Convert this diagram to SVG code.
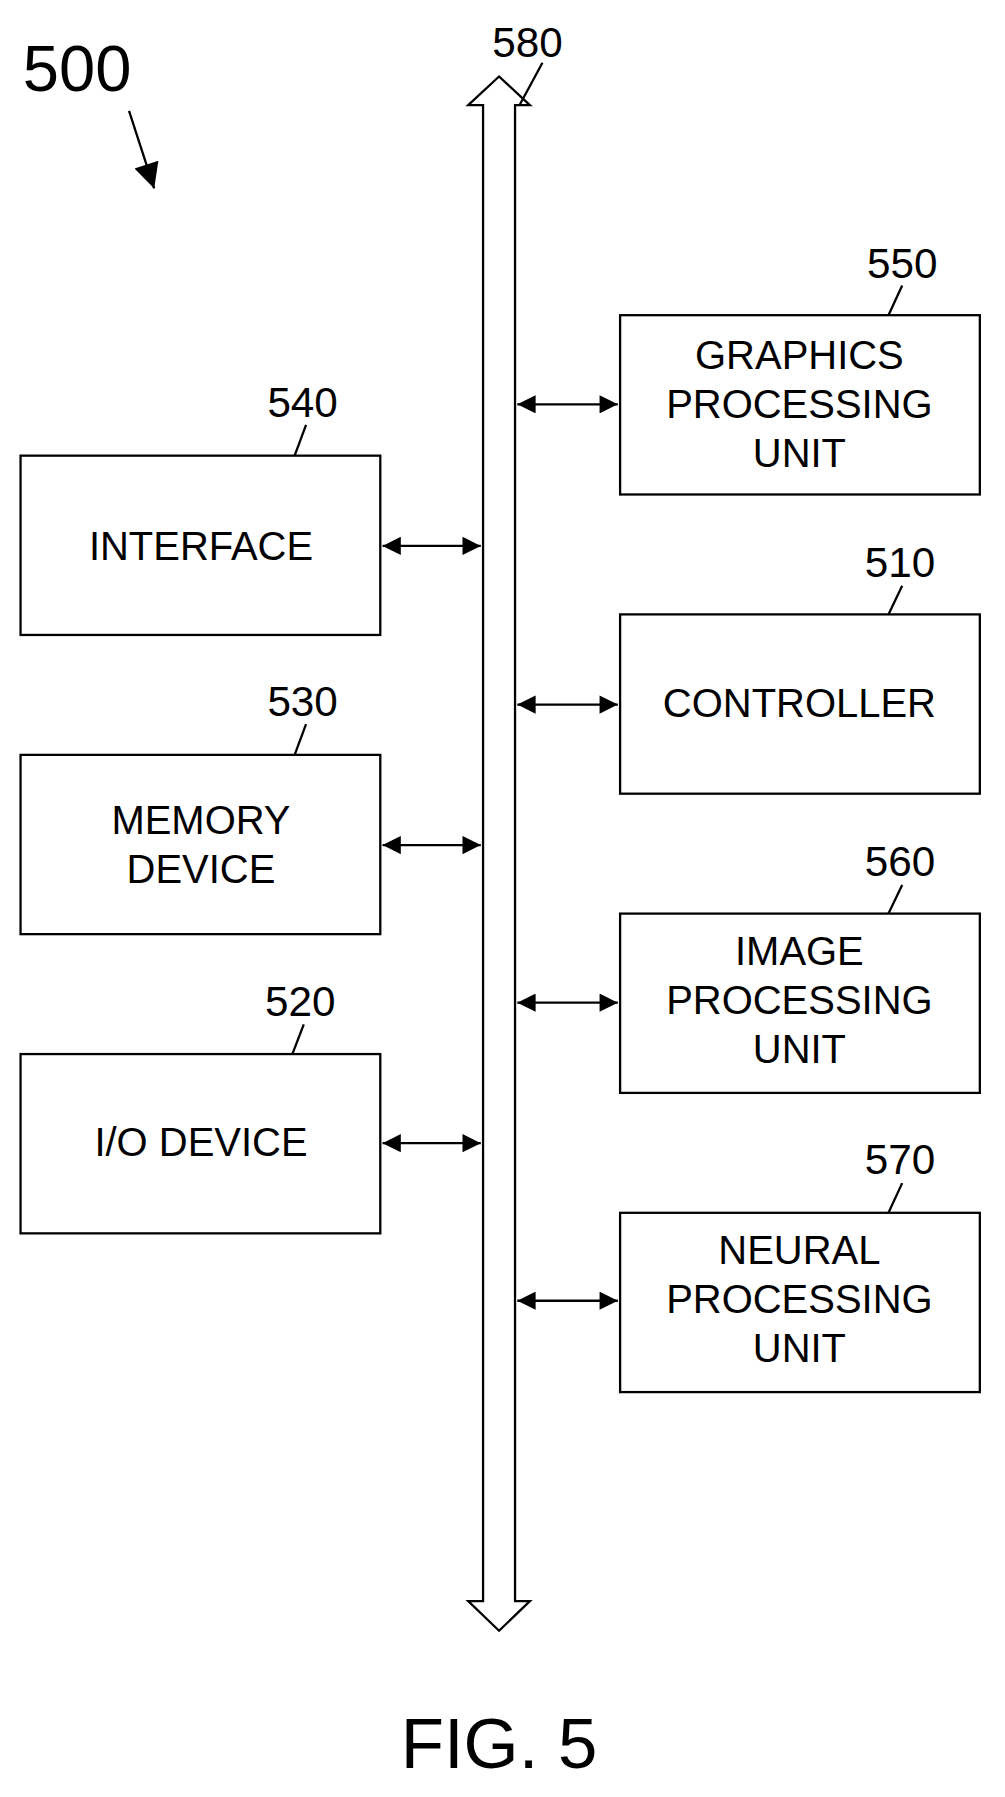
<svg xmlns="http://www.w3.org/2000/svg" width="1005" height="1797" viewBox="0 0 1005 1797">
<style>
text{font-family:"Liberation Sans",Arial,sans-serif;fill:#000}
.box{fill:#fff;stroke:#000;stroke-width:2}
.t{font-size:35px;text-anchor:middle}
.n{font-size:37px;text-anchor:middle}
.ld{stroke:#000;stroke-width:2;fill:none}
.c{stroke:#000;stroke-width:2;marker-start:url(#a);marker-end:url(#a)}
</style>
<defs>
<marker id="a" viewBox="0 0 10 10" refX="10" refY="5" markerWidth="20" markerHeight="16" markerUnits="userSpaceOnUse" orient="auto-start-reverse"><path d="M0,0L10,5L0,10z" fill="#000"/></marker>
<marker id="b" viewBox="0 0 10 10" refX="10" refY="5" markerWidth="32" markerHeight="22" markerUnits="userSpaceOnUse" orient="auto"><path d="M0,0L10,5L0,10z" fill="#000"/></marker>
</defs>
<rect width="1005" height="1797" fill="#fff"/>
<g transform="scale(1.142)">
<g id="label500"><text x="20" y="80" style="font-size:57px">500</text><line class="ld" x1="113" y1="97" x2="135" y2="165" marker-end="url(#b)"/></g>
<g id="bus580"><path d="M423,92 L410,92 L437,67 L464,92 L451,92 L451,1402 L464,1402 L437,1428 L410,1402 L423,1402 Z" fill="#fff" stroke="#000" stroke-width="2"/>
<text class="n" x="462" y="50">580</text><line class="ld" x1="475" y1="55" x2="455" y2="92"/></g>
<g id="n550"><rect class="box" x="543" y="276" width="315" height="157"/><text class="t" x="700" y="323">GRAPHICS</text><text class="t" x="700" y="366">PROCESSING</text><text class="t" x="700" y="409">UNIT</text><text class="n" x="790" y="243">550</text><line class="ld" x1="790" y1="250" x2="778" y2="276"/></g>
<g id="n510"><rect class="box" x="543" y="538" width="315" height="157"/><text class="t" x="700" y="628">CONTROLLER</text><text class="n" x="788" y="505">510</text><line class="ld" x1="790" y1="513" x2="778" y2="538"/></g>
<g id="n560"><rect class="box" x="543" y="800" width="315" height="157"/><text class="t" x="700" y="845">IMAGE</text><text class="t" x="700" y="888">PROCESSING</text><text class="t" x="700" y="931">UNIT</text><text class="n" x="788" y="767">560</text><line class="ld" x1="790" y1="775" x2="778" y2="800"/></g>
<g id="n570"><rect class="box" x="543" y="1062" width="315" height="157"/><text class="t" x="700" y="1107">NEURAL</text><text class="t" x="700" y="1150">PROCESSING</text><text class="t" x="700" y="1193">UNIT</text><text class="n" x="788" y="1028">570</text><line class="ld" x1="790" y1="1036" x2="778" y2="1062"/></g>
<g id="n540"><rect class="box" x="18" y="399" width="315" height="157"/><text class="t" x="176" y="490">INTERFACE</text><text class="n" x="265" y="365">540</text><line class="ld" x1="268" y1="372" x2="258" y2="399"/></g>
<g id="n530"><rect class="box" x="18" y="661" width="315" height="157"/><text class="t" x="176" y="730">MEMORY</text><text class="t" x="176" y="773">DEVICE</text><text class="n" x="265" y="627">530</text><line class="ld" x1="268" y1="634" x2="258" y2="661"/></g>
<g id="n520"><rect class="box" x="18" y="923" width="315" height="157"/><text class="t" x="176" y="1012">I/O DEVICE</text><text class="n" x="263" y="890">520</text><line class="ld" x1="266" y1="897" x2="256" y2="923"/></g>
<g id="connectors">
<line class="c" x1="453" y1="354" x2="541" y2="354"/>
<line class="c" x1="453" y1="617" x2="541" y2="617"/>
<line class="c" x1="453" y1="878" x2="541" y2="878"/>
<line class="c" x1="453" y1="1139" x2="541" y2="1139"/>
<line class="c" x1="335" y1="478" x2="421" y2="478"/>
<line class="c" x1="335" y1="740" x2="421" y2="740"/>
<line class="c" x1="335" y1="1001" x2="421" y2="1001"/>
</g>
<text x="437" y="1548" style="font-size:62px;text-anchor:middle">FIG. 5</text>
</g>
</svg>
